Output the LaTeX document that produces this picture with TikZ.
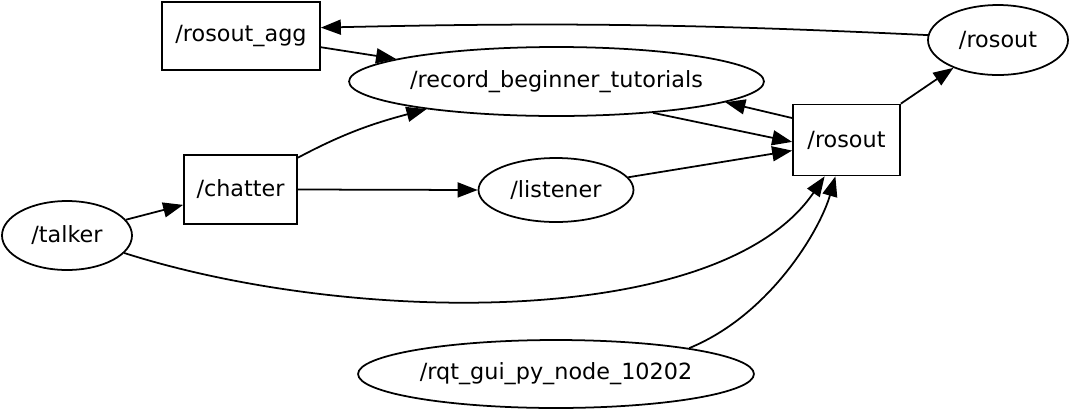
\documentclass[tikz,border=0pt]{standalone}
\usepackage{fontspec}
\setmainfont{DejaVu Sans}
\usetikzlibrary{shapes.geometric}
\usetikzlibrary{arrows.meta}

\begin{document}
\begin{tikzpicture}[x=0.02cm,y=-0.02cm,
    nodebox/.style={draw,rectangle,line width=1pt,inner sep=0pt,font=\fontsize{12.7}{15}\selectfont},
    topic/.style={draw,ellipse,line width=1pt,inner sep=0pt,font=\fontsize{12.7}{15}\selectfont},
    edge/.style={line width=1pt,-{Triangle[length=0.4cm,width=0.3cm]}}]
    \useasboundingbox (0,0) rectangle (1069,410);
    %\draw[help lines] (0,0) grid[step=50] (1069,410);
    \node[nodebox,minimum width=3.16cm,minimum height=1.36cm] (agg) at (241,36) {/rosout\_agg};
    \node[topic,minimum width=8.3cm,minimum height=1.38cm] (rec) at (556.5,81.5) {/record\_beginner\_tutorials};
    \node[topic,minimum width=2.8cm,minimum height=1.4cm] (rosoutT) at (998,40) {/rosout};
    \node[nodebox,minimum width=2.14cm,minimum height=1.42cm] (rosoutN) at (846.5,140) {/rosout};
    \node[nodebox,minimum width=2.26cm,minimum height=1.38cm] (chatter) at (240.5,189.5) {/chatter};
    \node[topic,minimum width=3.1cm,minimum height=1.28cm] (listener) at (556,190) {/listener};
    \node[topic,minimum width=2.6cm,minimum height=1.38cm] (talker) at (67,235.5) {/talker};
    \node[topic,minimum width=7.92cm,minimum height=1.36cm] (rqt) at (556,374) {/rqt\_gui\_py\_node\_10202};
	\draw[edge] (rosoutT.176) to[bend right=2] (agg.6);
	\draw[edge] (agg.-8)--(rec.172);
	\draw[edge] (rosoutN.north east)--(rosoutT.212);
	\draw[edge] (rosoutN.158)--(rec.-7);
	\draw[edge] (rec.-18)--(rosoutN.182);
	\draw[edge] (chatter.29) to[out=28,in=195] (rec.192);
	\draw[edge] (chatter.east)--(listener.west);
	\draw[edge] (listener.10)--(rosoutN.191);
	\draw[edge] (talker.15)--(chatter.195);
	\draw[edge] (talker.-17) .. controls (350,325) and (720,330) .. (rosoutN.239);
	\draw[edge] (rqt.11) .. controls (770,315) and (820,230) .. (rosoutN.253);
\end{tikzpicture}
\end{document}
